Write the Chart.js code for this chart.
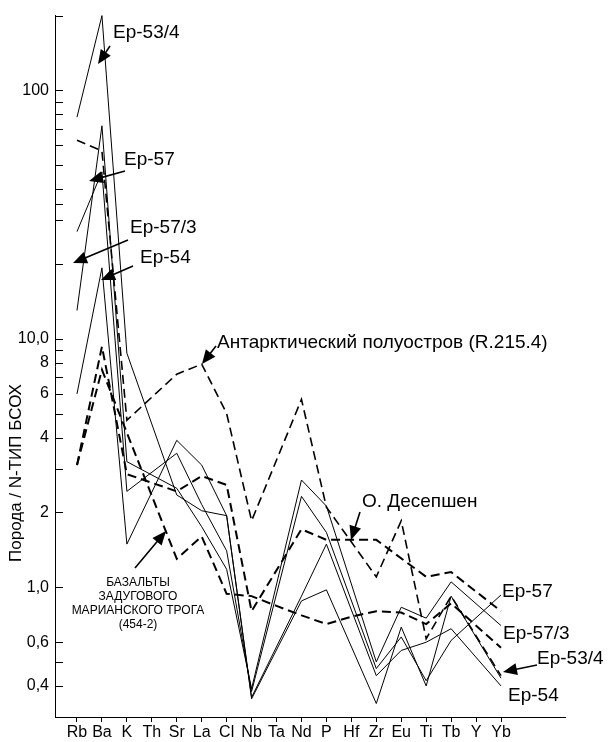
<!DOCTYPE html>
<html>
<head>
<meta charset="utf-8">
<script src="https://cdn.jsdelivr.net/npm/chart.js@4.4.0/dist/chart.umd.min.js"></script>
<style>
  body { margin: 0; background: #fff; }
  #wrap { width: 609px; height: 742px; position: relative; }
</style>
</head>
<body>
<div id="wrap"><canvas id="spider"></canvas></div>
<script>
// elements along the x axis
var categories = ['Rb', 'Ba', 'K', 'Th', 'Sr', 'La', 'Cl', 'Nb', 'Ta', 'Nd', 'P', 'Hf', 'Zr', 'Eu', 'Ti', 'Tb', 'Y', 'Yb'];

// rock / N-type MORB (null = no point)
var ep53_4 = [78, 200, 8.75, null, 2.35, 2.03, 1.94, 0.355, null, 0.88, 0.975, null, 0.34, 0.69, 0.40, 0.92, null, 0.43];
var ep57   = [27, 47, 2.43, null, 3.46, 2.15, 1.40, 0.38, null, 2.32, 1.66, null, 0.47, 0.63, 0.42, 0.61, null, 0.93];
var ep57_3 = [13, 72, 3.2, null, 2.5, 1.75, 1.18, 0.39, null, 2.7, 2.12, null, 0.50, 0.83, 0.75, 1.05, null, 0.70];
var ep54   = [6, 19.3, 1.49, null, 3.9, 3.1, 1.94, 0.36, null, 0.92, 1.49, null, 0.44, 0.556, 0.60, 0.68, null, 0.40];

var antarctic = [63, 57, 4.7, null, 7.2, 7.9, 5.0, 1.85, null, 5.7, 2.1, null, 1.1, 1.85, 0.62, 0.92, null, 0.44];
var deception = [3.1, 9.3, 2.85, null, 2.43, 2.8, 2.58, 0.80, null, 1.71, 1.55, 1.55, 1.55, null, 1.1, 1.15, null, 0.80];
var mariana   = [3.1, 7.5, null, null, 1.3, 1.6, 0.94, 0.92, 0.84, 0.77, 0.71, 0.76, 0.80, 0.79, 0.71, 0.86, null, 0.57];

// y axis
var yTickValues = [200, 100, 90, 80, 70, 60, 50, 40, 35, 30, 20, 10, 9, 8, 7, 6, 5, 4, 3, 2, 1, 0.6, 0.5, 0.4];
var yLabelValues = [100, 10, 8, 6, 4, 2, 1, 0.6, 0.4];
var yLabelTexts = ['100', '10,0', '8', '6', '4', '2', '1,0', '0,6', '0,4'];

var FONT = '"Liberation Sans", Arial, sans-serif';

function toPoints(arr) {
    return arr.map(function (v, i) { return { x: i, y: v }; })
              .filter(function (p) { return p.y !== null; });
}

function solid(label, arr) {
    return { label: label, data: toPoints(arr), borderColor: '#000', borderWidth: 1,
             pointRadius: 0, tension: 0, fill: false, clip: false };
}
function dashed(label, arr, w) {
    return { label: label, data: toPoints(arr), borderColor: '#000', borderWidth: w,
             borderDash: [9, 5], pointRadius: 0, tension: 0, fill: false, clip: false };
}

// labels and arrows drawn on top of the plot
var notes = [
    { t: 'Ep-53/4', x: 113, y: 38 },
    { t: 'Ep-57', x: 124, y: 165 },
    { t: 'Ep-57/3', x: 130, y: 233 },
    { t: 'Ep-54', x: 140, y: 263 },
    { t: 'Антарктический полуостров (R.215.4)', x: 217, y: 348 },
    { t: 'О. Десепшен', x: 362, y: 507 },
    { t: 'Ep-57', x: 502, y: 597 },
    { t: 'Ep-57/3', x: 503, y: 639 },
    { t: 'Ep-53/4', x: 537, y: 664 },
    { t: 'Ep-54', x: 508, y: 701 }
];
var arrows = [
    [110, 46, 98, 64],
    [125, 171, 89, 181],
    [128, 240, 73, 263],
    [133, 266, 101, 280],
    [216, 346, 202, 364],
    [360, 512, 351, 540],
    [135, 568, 166, 531],
    [537, 665, 503, 672]
];
var marianaText = ['БАЗАЛЬТЫ', 'ЗАДУГОВОГО', 'МАРИАНСКОГО ТРОГА', '(454-2)'];

function drawArrow(ctx, x1, y1, x2, y2) {
    var a = Math.atan2(y2 - y1, x2 - x1);
    var len = 14, w = 6;
    ctx.beginPath();
    ctx.moveTo(x1, y1);
    ctx.lineTo(x2 - len * 0.7 * Math.cos(a), y2 - len * 0.7 * Math.sin(a));
    ctx.lineWidth = 1.6;
    ctx.stroke();
    ctx.beginPath();
    ctx.moveTo(x2, y2);
    ctx.lineTo(x2 - len * Math.cos(a) + w * Math.sin(a), y2 - len * Math.sin(a) - w * Math.cos(a));
    ctx.lineTo(x2 - len * Math.cos(a) - w * Math.sin(a), y2 - len * Math.sin(a) + w * Math.cos(a));
    ctx.closePath();
    ctx.fill();
}

var decorations = {
    id: 'decorations',
    afterDraw: function (chart) {
        var ctx = chart.ctx;
        var y = chart.scales.y;
        var left = chart.chartArea.left;
        ctx.save();
        ctx.strokeStyle = '#000';
        ctx.fillStyle = '#000';

        // y ticks point into the plot
        ctx.lineWidth = 1;
        yTickValues.forEach(function (v) {
            var py = Math.round(y.getPixelForValue(v)) + 0.5;
            ctx.beginPath();
            ctx.moveTo(left, py);
            ctx.lineTo(left + 8, py);
            ctx.stroke();
        });

        // axis title
        ctx.save();
        ctx.translate(21, 473);
        ctx.rotate(-Math.PI / 2);
        ctx.font = '17px ' + FONT;
        ctx.textAlign = 'center';
        ctx.textBaseline = 'alphabetic';
        ctx.fillText('Порода / N-ТИП БСОХ', 0, 0);
        ctx.restore();

        ctx.font = '19px ' + FONT;
        ctx.textAlign = 'left';
        ctx.textBaseline = 'alphabetic';
        notes.forEach(function (n) { ctx.fillText(n.t, n.x, n.y); });

        ctx.font = '12px ' + FONT;
        ctx.textAlign = 'center';
        marianaText.forEach(function (s, i) { ctx.fillText(s, 138, 586 + i * 14); });

        arrows.forEach(function (a) { drawArrow(ctx, a[0], a[1], a[2], a[3]); });
        ctx.restore();
    }
};

var ctx = document.getElementById('spider').getContext('2d');
var myChart = new Chart(ctx, {
    type: 'line',
    data: {
        datasets: [
            solid('Ep-53/4', ep53_4),
            solid('Ep-57', ep57),
            solid('Ep-57/3', ep57_3),
            solid('Ep-54', ep54),
            dashed('Антарктический полуостров (R.215.4)', antarctic, 1.6),
            dashed('О. Десепшен', deception, 2),
            dashed('Базальты задугового Марианского трога (454-2)', mariana, 2)
        ]
    },
    options: {
        responsive: true,
        maintainAspectRatio: false,
        animation: false,
        devicePixelRatio: 1,
        spanGaps: true,
        layout: { autoPadding: false, padding: { left: 0, top: 9, right: 44, bottom: 0 } },
        plugins: { legend: { display: false }, tooltip: { enabled: false } },
        scales: {
            x: {
                type: 'linear',
                min: -0.882,
                max: 19.566,
                afterBuildTicks: function (scale) {
                    scale.ticks = categories.map(function (c, i) { return { value: i }; });
                },
                afterFit: function (scale) { scale.height = 25; },
                grid: { display: true, drawOnChartArea: false, drawTicks: true, tickLength: 5, color: '#000' },
                border: { display: true, color: '#000', width: 1 },
                ticks: {
                    autoSkip: false,
                    maxRotation: 0,
                    padding: 1,
                    color: '#000',
                    font: { family: FONT, size: 16 },
                    callback: function (v) { return categories[v] || ''; }
                }
            },
            y: {
                type: 'logarithmic',
                min: 0.31,
                max: 200,
                afterBuildTicks: function (scale) {
                    scale.ticks = yTickValues.map(function (v) { return { value: v }; });
                },
                afterFit: function (scale) { scale.width = 55; },
                grid: { display: false, drawTicks: false },
                border: { display: true, color: '#000', width: 1 },
                ticks: {
                    autoSkip: false,
                    padding: 6,
                    color: '#000',
                    font: { family: FONT, size: 16 },
                    callback: function (v) {
                        var i = yLabelValues.indexOf(v);
                        return i >= 0 ? yLabelTexts[i] : '';
                    }
                }
            }
        }
    },
    plugins: [decorations]
});
</script>
</body>
</html>
